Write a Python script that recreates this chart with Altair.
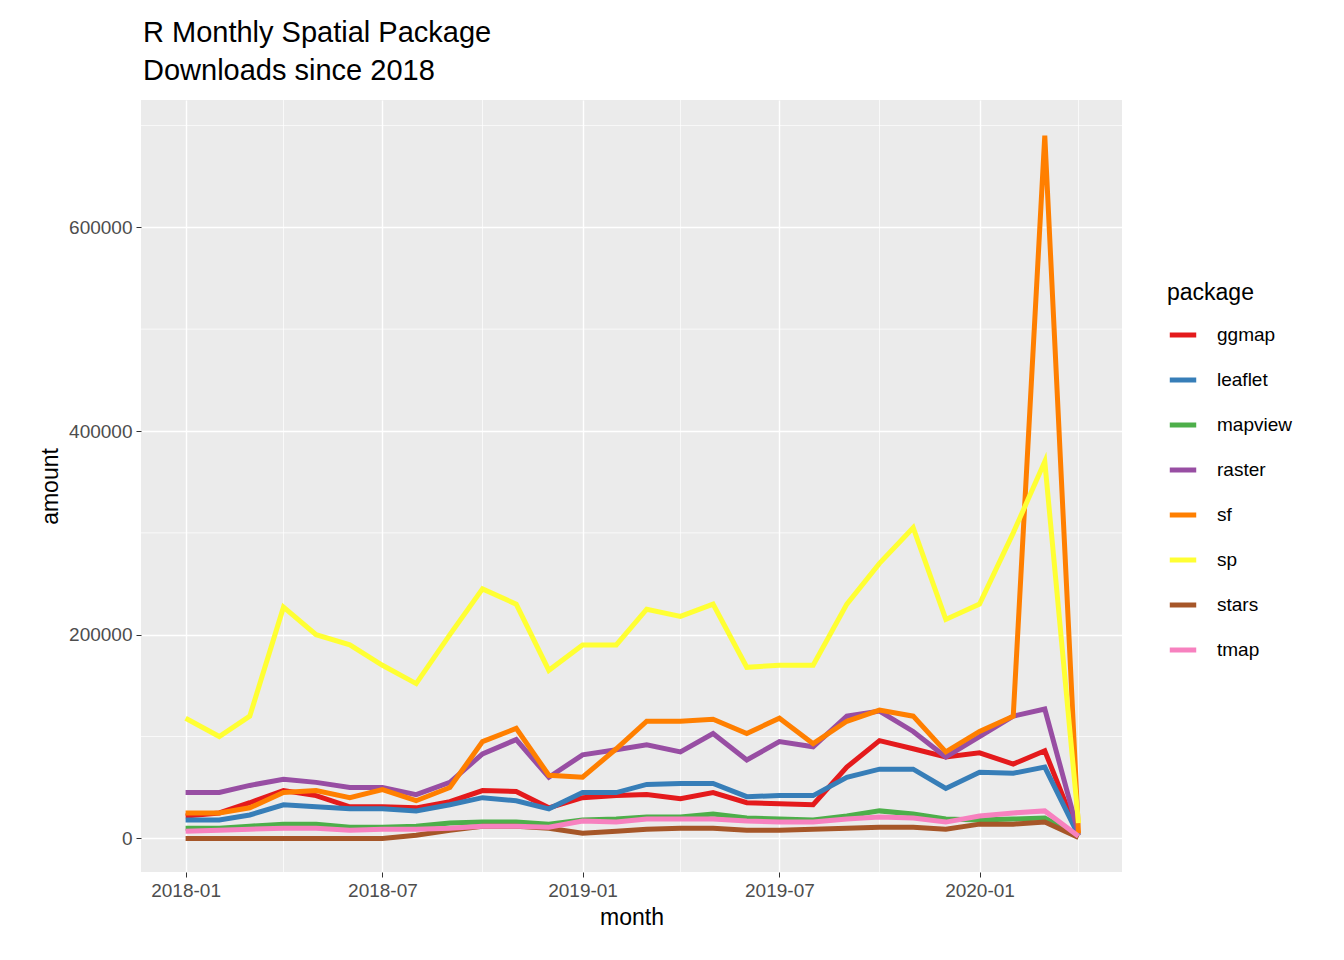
import altair as alt
import pandas as pd

months = pd.date_range("2018-01-01", "2020-04-01", freq="MS").strftime("%Y-%m-%d").tolist()

packages = ["ggmap", "leaflet", "mapview", "raster", "sf", "sp", "stars", "tmap"]
colors = ["#E41A1C", "#377EB8", "#4DAF4A", "#984EA3", "#FF7F00", "#FFFF33", "#A65628", "#F781BF"]

# thousands of downloads per month
ggmap = [22, 25, 35, 47, 42, 31, 31, 30, 36, 47, 46, 30, 40, 42, 43, 39, 45, 35, 34, 33, 70, 96, 88, 80, 84, 73, 86, 3]
leaflet = [18, 18, 23, 33, 31, 29, 29, 27, 33, 40, 37, 29, 45, 45, 53, 54, 54, 41, 42, 42, 60, 68, 68, 49, 65, 64, 70, 3]
mapview = [10, 10, 12, 14, 14, 11, 11, 12, 15, 16, 16, 14, 18, 19, 21, 21, 24, 20, 19, 18, 22, 27, 24, 19, 18, 19, 20, 2]
raster = [45, 45, 52, 58, 55, 50, 50, 43, 55, 83, 97, 60, 82, 87, 92, 85, 103, 77, 95, 90, 120, 125, 105, 80, 100, 120, 127, 5]
sf = [25, 25, 30, 45, 47, 40, 48, 37, 50, 95, 108, 62, 60, 88, 115, 115, 117, 103, 118, 93, 115, 126, 120, 85, 105, 120, 690, 5]
sp = [118, 100, 120, 227, 200, 190, 170, 152, 200, 245, 230, 165, 190, 190, 225, 218, 230, 168, 170, 170, 230, 270, 305, 215, 230, 300, 370, 15]
stars = [0, 0, 0, 0, 0, 0, 0, 3, 8, 12, 12, 10, 5, 7, 9, 10, 10, 8, 8, 9, 10, 11, 11, 9, 14, 14, 16, 1]
tmap = [7, 8, 9, 10, 10, 8, 9, 9, 10, 12, 12, 11, 17, 16, 19, 19, 19, 17, 16, 16, 19, 21, 20, 16, 22, 25, 27, 2]

series = dict(ggmap=ggmap, leaflet=leaflet, mapview=mapview, raster=raster,
              sf=sf, sp=sp, stars=stars, tmap=tmap)
rows = []
for p in packages:
    for m, v in zip(months, series[p]):
        rows.append({"month": m, "amount": v * 1000, "package": p})
df = pd.DataFrame(rows)

x_dom = ["2017-11-21", "2020-05-11"]
y_dom = [-33000, 725000]
x_ticks = [alt.DateTime(year=y, month=m, date=1) for y, m in
           [(2018, 1), (2018, 7), (2019, 1), (2019, 7), (2020, 1)]]

minor_x = pd.DataFrame({"month": ["2018-04-01", "2018-10-01", "2019-04-01", "2019-10-01", "2020-04-01"]})
minor_y = pd.DataFrame({"amount": [100000, 300000, 500000, 700000]})

xs = alt.Scale(domain=x_dom, nice=False)
ys = alt.Scale(domain=y_dom, nice=False, zero=False)

vminor = alt.Chart(minor_x).mark_rule(color="white", strokeWidth=0.7).encode(
    x=alt.X("month:T", scale=xs))
hminor = alt.Chart(minor_y).mark_rule(color="white", strokeWidth=0.7).encode(
    y=alt.Y("amount:Q", scale=ys))

lines = alt.Chart(df).mark_line(strokeWidth=5, clip=True).encode(
    x=alt.X("month:T", scale=xs, title="month",
            axis=alt.Axis(format="%Y-%m", values=x_ticks, labelFlush=False)),
    y=alt.Y("amount:Q", scale=ys, title="amount",
            axis=alt.Axis(values=[0, 200000, 400000, 600000], format="d")),
    color=alt.Color("package:N", scale=alt.Scale(domain=packages, range=colors),
                    legend=alt.Legend(symbolType="stroke", symbolStrokeWidth=5,
                                      symbolSize=700, labelFontSize=19, titleFontSize=23,
                                      titleFontWeight="normal", rowPadding=19,
                                      orient="none", legendX=1026, legendY=182,
                                      labelOffset=18, titlePadding=14,
                                      fillColor="white", padding=0)),
)

chart = alt.layer(vminor, hminor, lines).properties(
    width=981, height=772,
    autosize=alt.AutoSizeParams(type="none"),
    padding={"left": 133, "top": 92, "right": 214, "bottom": 80},
    title=alt.Title(["R Monthly Spatial Package", " Downloads since 2018"],
                    anchor="start", frame="group", fontSize=29, fontWeight="normal",
                    font="Liberation Sans", offset=14, lineHeight=38, dx=2),
).configure_view(fill="#EBEBEB", stroke=None).configure_axis(
    gridColor="white", gridWidth=1.4, domain=False, tickColor="#333333",
    labelColor="#4D4D4D", labelFontSize=19, titleFontSize=23, titleFontWeight="normal",
    titleColor="black", labelFont="Liberation Sans", titleFont="Liberation Sans",
    labelPadding=4, titlePadding=6,
).configure_legend(labelFont="Liberation Sans", titleFont="Liberation Sans")

chart.save("out.html", embed_options={"renderer": "svg", "actions": False})
